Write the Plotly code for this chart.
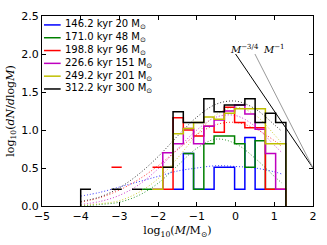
import plotly.graph_objects as go

# ---------------- data ----------------
bin_edges = [-4.0, -3.735, -3.47, -3.205, -2.94, -2.675, -2.41, -2.145, -1.88, -1.615,
             -1.35, -1.085, -0.82, -0.555, -0.29, -0.025, 0.24, 0.505, 0.77, 1.035, 1.3]

labels = ["146.2 kyr 20 M<sub>⊙</sub>", "171.0 kyr 48 M<sub>⊙</sub>", "198.8 kyr 96 M<sub>⊙</sub>",
          "226.6 kyr 151 M<sub>⊙</sub>", "249.2 kyr 201 M<sub>⊙</sub>", "312.2 kyr 300 M<sub>⊙</sub>"]
colors = ["#0000ff", "#008000", "#ff0000", "#bf00bf", "#bfbf00", "#000000"]

N = None
hist_blue    = [N, N, N, N, N, N, N, N, N, 0.22, 0.69, 0.22, 0.22, 0.51, 0.51, 0.22, 0.90, 0.22, N, N]
hist_green   = [N, N, N, N, N, N, 0.22, N, N, N, 0.69, 0.22, 0.82, 0.92, 0.92, 0.82, 0.51, 0.86, 0.22, N]
hist_red     = [N, N, N, 0.51, N, N, N, 0.51, 0.22, 1.16, 1.00, 0.92, 1.05, 0.97, 1.30, 1.10, 1.03, 1.03, 0.22, 0.22]
hist_magenta = [N, N, N, N, N, N, N, 0.22, 0.70, 0.82, 1.02, 0.82, 1.05, 1.13, 1.25, 1.33, 1.21, 1.01, 0.69, 0.22]
hist_yellow  = [N, N, N, N, N, N, N, 0.22, 0.51, 0.95, 1.02, 1.10, 1.17, 1.14, 1.22, 1.28, 1.28, 1.28, 0.82, 0.82]
hist_black   = [0.22, N, N, 0.22, N, 0.22, N, N, 0.51, 1.24, 1.10, 1.10, 1.41, 1.24, 1.33, 1.33, 1.41, 1.10, 1.22, 1.10]
hists = [hist_blue, hist_green, hist_red, hist_magenta, hist_yellow, hist_black]

fit_x = [-4.0, -3.5, -3.0, -2.5, -2.0, -1.5, -1.0, -0.5, 0.0, 0.5, 1.0, 1.2]
fit_blue    = [0.13, 0.18, 0.25, 0.32, 0.39, 0.46, 0.50, 0.53, 0.52, 0.50, 0.45, 0.42]
fit_green   = [0.00, 0.02, 0.05, 0.14, 0.30, 0.53, 0.76, 0.88, 0.82, 0.63, 0.39, 0.30]
fit_red     = [0.05, 0.11, 0.21, 0.35, 0.53, 0.74, 0.94, 1.07, 1.10, 1.02, 0.86, 0.78]
fit_magenta = [0.02, 0.06, 0.14, 0.28, 0.49, 0.75, 1.00, 1.17, 1.19, 1.05, 0.80, 0.70]
fit_yellow  = [0.01, 0.03, 0.07, 0.18, 0.36, 0.63, 0.94, 1.20, 1.30, 1.20, 0.94, 0.82]
fit_black   = [0.06, 0.12, 0.24, 0.42, 0.65, 0.92, 1.17, 1.34, 1.38, 1.28, 1.07, 0.98]
fits = [fit_blue, fit_green, fit_red, fit_magenta, fit_yellow, fit_black]

slope34_x = [0.0, 2.0]
slope34_y = [2.0, 0.5]
slope1_x = [0.5, 2.0]
slope1_y = [2.0, 0.5]

x_ticks = [-5, -4, -3, -2, -1, 0, 1, 2]
y_ticks = [0.0, 0.5, 1.0, 1.5, 2.0, 2.5]


def step_xy(vals):
    xs, ys = [], []
    prev = None
    for i, v in enumerate(vals):
        if v is None:
            if prev is not None:
                xs.append(None)
                ys.append(None)
            prev = None
            continue
        if prev is None and i == 0:
            xs.append(bin_edges[0])
            ys.append(0.0)
        xs += [bin_edges[i], bin_edges[i + 1]]
        ys += [v, v]
        prev = v
    if vals[-1] is not None:
        xs.append(bin_edges[-1])
        ys.append(0.0)
    return xs, ys


fig = go.Figure()

for fy, c in zip(fits, colors):
    fig.add_trace(go.Scatter(x=fit_x, y=fy, mode="lines",
                             line=dict(color=c, width=1, dash="1px,2px", shape="spline"),
                             opacity=0.8, showlegend=False, hoverinfo="skip"))

for h, c, lab in zip(hists, colors, labels):
    xs, ys = step_xy(h)
    fig.add_trace(go.Scatter(x=xs, y=ys, mode="lines", line=dict(color=c, width=1.5), name=lab, showlegend=False))

fig.add_trace(go.Scatter(x=slope34_x, y=slope34_y, mode="lines", line=dict(color="black", width=1), showlegend=False))
fig.add_trace(go.Scatter(x=slope1_x, y=slope1_y, mode="lines", line=dict(color="#999999", width=1), showlegend=False))

# manual legend (matplotlib-like, frameless)
L, T, H, W = 41, 10, 198, 276


def px(x):
    return (x - L) / W


def py(y):
    return (T + H - y) / H


for i, (c, lab) in enumerate(zip(colors, labels)):
    yy = 19.3 + i * 13.35
    fig.add_shape(type="line", xref="paper", yref="paper", x0=px(43), x1=px(60), y0=py(yy), y1=py(yy),
                  line=dict(color=c, width=1.5))
    fig.add_annotation(xref="paper", yref="paper", x=px(62), y=py(yy), text=lab, showarrow=False,
                       xanchor="left", yanchor="middle", font=dict(family="DejaVu Sans", size=10, color="black"))

fig.add_annotation(x=0.22, y=2.07, text="<i>M</i><sup>−3/4</sup>", showarrow=False,
                   font=dict(family="DejaVu Serif", size=10, color="black"))
fig.add_annotation(x=1.0, y=2.07, text="<i>M</i><sup>−1</sup>", showarrow=False,
                   font=dict(family="DejaVu Serif", size=10, color="black"))

axis_common = dict(showline=True, linecolor="black", linewidth=1, mirror="ticks", ticks="inside",
                   ticklen=4, tickcolor="black", showgrid=False, zeroline=False,
                   tickfont=dict(family="DejaVu Sans", size=11, color="black"))

fig.update_layout(
    width=327, height=245,
    margin=dict(l=41, r=10, t=10, b=37),
    paper_bgcolor="white", plot_bgcolor="white",
    showlegend=False,
    hovermode=False,
    xaxis=dict(range=[-5, 2], tickvals=x_ticks, ticktext=[("−" + str(-t)) if t < 0 else str(t) for t in x_ticks],
               title=dict(text="log<sub>10</sub>(<i>M</i>/M<sub>⊙</sub>)", standoff=4,
                          font=dict(family="DejaVu Serif", size=11, color="black")),
               **axis_common),
    yaxis=dict(range=[0, 2.5], tickvals=y_ticks, ticktext=["%.1f" % t for t in y_ticks],
               title=dict(text="log<sub>10</sub>(<i>dN</i>/<i>d</i>log<i>M</i>)", standoff=4,
                          font=dict(family="DejaVu Serif", size=11, color="black")),
               **axis_common),
)

fig.write_html("out.html", config={"displayModeBar": False, "staticPlot": True},
               post_script="document.body.style.margin='0px';")
